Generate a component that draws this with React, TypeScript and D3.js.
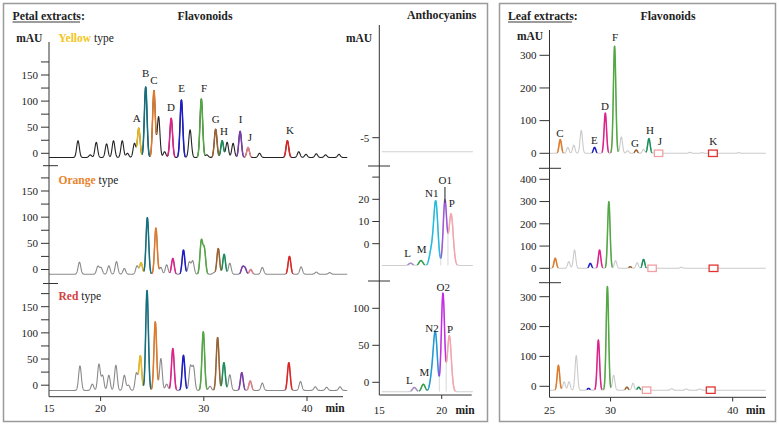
import React from 'react';
import * as d3 from 'd3';

// [retention time (min), apex (mAU), peak id, optional sigma]
type P = [number, number, string, number?];

// ---------- Petal flavonoids ----------
const yellowPeaks: P[] = [
  [17.81, 24, ''], [19.0, -3, ''], [19.58, 21, ''], [20.58, 18, ''], [21.25, 24, ''], [22.1, 24, ''],
  [22.6, 0, ''], [23.28, 19, ''], [23.7, 48, 'A'], [24.37, 127, 'B'], [25.17, 120, 'C'], [25.62, 70, ''],
  [26.2, 3, ''], [26.84, 67, 'D'], [27.83, 102, 'E'], [28.67, 45, ''], [29.76, 104, 'F'], [30.3, -3, ''],
  [31.15, 46, 'G'], [31.78, 24, 'H'], [32.26, 21, ''], [32.84, 19, ''], [33.52, 42, 'I'], [34.29, 11, 'J'],
  [35.4, 0, ''], [38.1, 24, 'K'], [39.2, 3, ''], [39.9, -2, ''], [40.9, -1, ''], [41.8, -3, ''], [43.1, -2, ''],
];
const orangePeaks: P[] = [
  [17.95, 14, ''], [19.74, 6, ''], [20.05, 3, ''], [20.8, 7, ''], [21.54, 15, ''], [22.3, 2, ''],
  [23.53, 7, ''], [23.92, 13, 'A'], [24.53, 99, 'B'], [25.36, 79, 'C'], [25.84, 4, ''], [26.4, 9, ''],
  [27.0, 21, 'D'], [28.03, 37, 'E'], [28.6, 14, ''], [28.93, 16, ''], [29.76, 53, 'F'], [30.05, 38, 'F'],
  [31.0, -6, ''], [31.4, 40, 'G'], [31.97, 29, 'H'], [32.52, 12, ''], [33.75, 4, 'I'], [34.0, 2, 'I'],
  [34.55, 0, 'J'], [35.67, 4, ''], [38.3, 25, 'K'], [39.43, 5, ''], [40.9, -5, ''], [42.2, -6, ''],
];
const redPeaks: P[] = [
  [18.0, 37, ''], [19.2, 2, ''], [19.84, 40, ''], [20.2, 18, ''], [20.8, 19, ''], [21.48, 38, ''],
  [22.3, 19, ''], [22.7, 0, ''], [23.47, 23, ''], [23.85, 56, 'A'], [24.5, 181, 'B'], [25.3, 121, 'C'],
  [25.84, 51, ''], [26.4, 2, ''], [27.0, 70, 'D'], [28.03, 57, 'E'], [28.7, 35, ''], [29.0, 34, ''],
  [29.95, 102, 'F'], [30.6, -2, ''], [31.34, 91, 'G'], [31.95, 43, 'H'], [32.52, 20, ''], [33.68, 24, 'I'],
  [34.5, 8, 'J'], [35.67, 4, ''], [38.24, 43, 'K'], [39.37, 7, ''], [40.8, -3, ''], [41.9, -4, ''], [43.2, -3, ''],
];
const petalBaselines = [-8, -9, -10];
const yellowLabels: [string, number, number][] = [
  ['A', 136.7, 118.3], ['B', 145.7, 72.7], ['C', 154, 80], ['D', 171, 106.7], ['E', 181.7, 88.3],
  ['F', 204, 88.3], ['G', 215.7, 119], ['H', 224, 130.7], ['I', 240.7, 119], ['J', 250, 136.7], ['K', 290, 130],
];
const flavColors: Record<string, string> = {
  A: '#e8b820', B: '#12707f', C: '#e07a28', D: '#e0208c', E: '#1c1cc8', F: '#52a842',
  G: '#9a6432', H: '#18905a', I: '#7a3ca8', J: '#e08088', K: '#e02424',
};
const petalTicks = [0, 25, 50, 75, 100, 125, 150, 175];
const petalTickLabels = [0, 50, 100, 150];

// ---------- Anthocyanins ----------
const anthMidPeaks: P[] = [
  [17.51, -8.8, 'L', 0.15], [18.34, -7.6, 'M', 0.15], [19.15, -4, 'N', 0.15],
  [19.52, 19.1, 'N', 0.17], [20.26, 19.4, 'O', 0.14], [20.75, 13.4, 'P', 0.17],
];
const anthBotPeaks: P[] = [
  [17.81, -7, 'L', 0.15], [18.53, -2.7, 'M', 0.15], [19.2, 5, 'N', 0.15],
  [19.49, 66, 'N', 0.16], [20.1, 120, 'O', 0.13], [20.61, 63, 'P', 0.16],
];
const anthBaselines = [-6, -9.8, -12.7];
const anthMidColors: Record<string, string> = { L: '#a88cc8', M: '#2f9e48', N: '#22bce2', O: '#9c58d6', P: '#f4a4ac' };
const anthBotColors: Record<string, string> = { L: '#a88cc8', M: '#2f9e48', N: '#1f9ad8', O: '#c42ce8', P: '#f4a4ac' };
const anthMidLabels: [string, number, number][] = [
  ['L', 407.7, 252.7], ['M', 421.7, 248.7], ['N1', 431.7, 193.3], ['O1', 445.3, 180], ['P', 451.7, 203.3],
];
const anthBotLabels: [string, number, number][] = [
  ['L', 409.3, 380], ['M', 424.3, 372.3], ['N2', 432, 327.7], ['O2', 443.3, 286.7], ['P', 450, 328.7],
];

// ---------- Leaf flavonoids ----------
const leafTopPeaks: P[] = [
  [25.88, 42, 'C'], [26.5, 18, ''], [26.99, 25, ''], [27.6, 70, ''], [28.69, 18, 'E'], [29.57, 123, 'D'],
  [30.33, 328, 'F'], [30.88, 50, ''], [31.4, 8, ''], [32.1, 10, 'G'], [32.7, 12, ''], [33.14, 45, 'H'],
  [36.5, 3, ''], [37.5, 2, ''], [40.5, 2, ''],
];
const leafMidPeaks: P[] = [
  [25.47, 45, 'C'], [26.58, 30, ''], [27.05, 82, ''], [28.34, 22, 'E'], [29.1, 82, 'D'], [29.86, 299, 'F'],
  [30.41, 34, ''], [31.61, 7, 'G'], [32.18, 25, ''], [32.7, 40, 'H'], [35.8, 5, ''],
];
const leafBotPeaks: P[] = [
  [25.73, 70, 'C'], [26.2, 15, ''], [26.6, 15, ''], [27.19, 103, ''], [28.2, -7, 'E'], [29.0, 155, 'D'],
  [29.74, 334, 'F'], [30.25, 37, ''], [31.34, -3, 'G'], [31.84, 10, ''], [32.3, -3, 'H'],
  [35.0, -8, ''], [36.2, -9, ''], [37.3, -9, ''],
];
const leafBaselines = [0, 0, -13];
const leafBoxJ = [33.93, 33.4, 32.95];
const leafBoxK = [38.38, 38.43, 38.2];
const leafLabels: [string, number, number][] = [
  ['C', 560, 133.3], ['E', 594.3, 140], ['D', 605, 106], ['F', 615, 37.3], ['G', 635, 143.3],
  ['H', 650, 130], ['J', 660, 140.7], ['K', 713.3, 141],
];

const FONT = "'Liberation Serif', 'Times New Roman', serif";
const AX = '#333';

type Scale = d3.ScaleLinear<number, number>;
type Pt = { t: number; v: number; id: string };

function buildTrace(peaks: P[], base: number, sigma: number, t0: number, t1: number,
  x: Scale, y: Scale, colors: Record<string, string>, def: string) {
  const n = Math.round((t1 - t0) / 0.01);
  const pxUnit = Math.abs(y(1) - y(0));
  const pts: Pt[] = [];
  for (let i = 0; i <= n; i++) {
    const t = t0 + (i * (t1 - t0)) / n;
    let v = base, best = 0, id = '';
    for (const [pt, h, pid, s] of peaks) {
      const sg = s ?? sigma;
      const c = (h - base) * Math.exp(-((t - pt) ** 2) / (2 * sg * sg));
      v += c;
      if (c > best) { best = c; id = pid; }
    }
    if (best * pxUnit < 0.6) id = '';
    pts.push({ t, v, id });
  }
  const line = d3.line<Pt>().x(d => x(d.t)).y(d => y(d.v));
  const segs: { d: string; color: string; w: number }[] = [{ d: line(pts) || '', color: def, w: 1.1 }];
  let i = 0;
  while (i < pts.length) {
    const id = pts[i].id;
    if (id && colors[id]) {
      let j = i;
      while (j + 1 < pts.length && pts[j + 1].id === id) j++;
      const sl = pts.slice(Math.max(0, i - 1), Math.min(pts.length, j + 2));
      segs.push({ d: line(sl) || '', color: colors[id], w: 1.5 });
      i = j + 1;
    } else i++;
  }
  return { segs, pts };
}

function Trace({ segs }: { segs: { d: string; color: string; w: number }[] }) {
  return (
    <g fill="none" strokeLinejoin="round">
      {segs.map((s, i) => <path key={i} d={s.d} stroke={s.color} strokeWidth={s.w} />)}
    </g>
  );
}

function YTicks({ y, ax, ticks, labels, len = 8 }: { y: Scale; ax: number; ticks: number[]; labels: number[]; len?: number }) {
  return (
    <g>
      {ticks.map(t => (
        <line key={t} x1={ax - len} x2={ax} y1={y(t)} y2={y(t)} stroke={AX} strokeWidth={1} />
      ))}
      {labels.map(t => (
        <text key={'l' + t} x={ax - len - 3} y={y(t)} dy="0.35em" textAnchor="end" fontSize={11} fontFamily={FONT} fill="#222">{t}</text>
      ))}
    </g>
  );
}

export default function App() {
  // Petal flavonoid scales
  const xP = d3.scaleLinear().domain([15, 40]).range([49, 307]);
  const yY = d3.scaleLinear().domain([0, 150]).range([153.3, 75]);
  const yO = d3.scaleLinear().domain([0, 150]).range([269.5, 191]);
  const yR = d3.scaleLinear().domain([0, 150]).range([385.2, 306.7]);
  const petalY = [yY, yO, yR];
  const petalData = [yellowPeaks, orangePeaks, redPeaks];
  const petalCol = ['#222', '#8a8a8a', '#8a8a8a'];

  // Anthocyanin scales
  const xA = d3.scaleLinear().domain([15, 20]).range([379.3, 441.7]);
  const yAT = d3.scaleLinear().domain([-5, -6]).range([137.7, 151.7]);
  const yAM = d3.scaleLinear().domain([0, 20]).range([243.7, 199.3]);
  const yAB = d3.scaleLinear().domain([0, 100]).range([382.3, 308.3]);

  // Leaf scales
  const xL = d3.scaleLinear().domain([25, 40]).range([549.5, 732.7]);
  const yLT = d3.scaleLinear().domain([0, 300]).range([153.3, 55.3]);
  const yLM = d3.scaleLinear().domain([0, 400]).range([268.3, 179.3]);
  const yLB = d3.scaleLinear().domain([0, 300]).range([386.3, 296.7]);
  const leafY = [yLT, yLM, yLB];
  const leafData = [leafTopPeaks, leafMidPeaks, leafBotPeaks];

  const petalTraces = petalData.map((pk, i) =>
    buildTrace(pk, petalBaselines[i], 0.13, 15.0, 43.9, xP, petalY[i], flavColors, petalCol[i]));
  const anthTop = d3.line<number>().x(t => xA(t)).y(() => yAT(anthBaselines[0]))([15.2, 22.5]) || '';
  const anthMid = buildTrace(anthMidPeaks, anthBaselines[1], 0.16, 15.2, 22.5, xA, yAM, anthMidColors, '#cfcfcf');
  const anthBot = buildTrace(anthBotPeaks, anthBaselines[2], 0.16, 15.2, 22.5, xA, yAB, anthBotColors, '#cfcfcf');
  const leafTraces = leafData.map((pk, i) =>
    buildTrace(pk, leafBaselines[i], 0.1, 25.0, 42.7, xL, leafY[i], flavColors, '#cacaca'));

  // valley drop lines for anthocyanins
  const dropLines = (tr: { pts: Pt[] }, y: Scale, base: number, pairs: [string, string][]) =>
    pairs.map(([a, b]) => {
      const k = tr.pts.findIndex((p, i) => i > 0 && tr.pts[i - 1].id === a && p.id === b);
      const p = tr.pts[k];
      return { x: xA(p.t), y1: y(base), y2: y(p.v) };
    });
  const midDrops = dropLines(anthMid, yAM, anthBaselines[1], [['N', 'O'], ['O', 'P']]);
  const botDrops = dropLines(anthBot, yAB, anthBaselines[2], [['N', 'O'], ['O', 'P']]);
  const o1 = anthMidPeaks.find(p => p[2] === 'O')!;

  const txt = (s: string, x: number, y: number, extra: any = {}) => (
    <text x={x} y={y} dy="0.35em" fontFamily={FONT} fontSize={11} fill="#222" textAnchor="middle" {...extra}>{s}</text>
  );

  return (
    <svg width={779} height={426} style={{ position: 'absolute', left: 0, top: 0, background: '#fff' }}>
      <rect x={0} y={0} width={779} height={426} fill="#fff" />
      {/* frames */}
      <rect x={3.5} y={3.5} width={484} height={418} fill="none" stroke="#9a9a9a" strokeWidth={1.5} />
      <rect x={499.5} y={3.5} width={276} height={418} fill="none" stroke="#9a9a9a" strokeWidth={1.5} />

      {/* titles */}
      <text x={12.5} y={16} dy="0.35em" fontFamily={FONT} fontSize={11.8} fontWeight="bold" fill="#222">Petal extracts:</text>
      <line x1={12.5} x2={80} y1={22} y2={22} stroke="#222" strokeWidth={0.9} />
      {txt('Flavonoids', 205, 16, { fontSize: 11.8, fontWeight: 'bold' })}
      {txt('Anthocyanins', 441.7, 15, { fontSize: 11.8, fontWeight: 'bold' })}
      <text x={508} y={16} dy="0.35em" fontFamily={FONT} fontSize={11.8} fontWeight="bold" fill="#222">Leaf extracts:</text>
      <line x1={508} x2={572} y1={22} y2={22} stroke="#222" strokeWidth={0.9} />
      {txt('Flavonoids', 668, 16, { fontSize: 11.8, fontWeight: 'bold' })}

      {/* ---- petal flavonoids ---- */}
      {txt('mAU', 29.3, 37.7, { fontSize: 11.5, fontWeight: 'bold' })}
      <text x={58.5} y={38} dy="0.35em" fontFamily={FONT} fontSize={11.5} fill="#222">
        <tspan fill="#f2c618" fontWeight="bold">Yellow</tspan> type
      </text>
      <text x={58.5} y={180} dy="0.35em" fontFamily={FONT} fontSize={11.5} fill="#222">
        <tspan fill="#e8842e" fontWeight="bold">Orange</tspan> type
      </text>
      <text x={58.5} y={296} dy="0.35em" fontFamily={FONT} fontSize={11.5} fill="#222">
        <tspan fill="#d2403e" fontWeight="bold">Red</tspan> type
      </text>
      {petalTraces.map((tr, i) => <Trace key={i} segs={tr.segs} />)}
      {yellowLabels.map(([s, x, y]) => <g key={s}>{txt(s, x, y)}</g>)}
      <line x1={49} x2={49} y1={42} y2={396.7} stroke={AX} strokeWidth={1} />
      <line x1={49} x2={343} y1={396.7} y2={396.7} stroke={AX} strokeWidth={1} />
      {petalY.map((y, i) => <YTicks key={i} y={y} ax={49} ticks={petalTicks} labels={petalTickLabels} />)}
      {[165.7, 283.5].map(v => <line key={v} x1={43} x2={58} y1={v} y2={v} stroke={AX} strokeWidth={1} />)}
      {[20, 30, 40].map(t => <line key={t} x1={xP(t)} x2={xP(t)} y1={396.7} y2={401} stroke={AX} />)}
      {[15, 20, 30, 40].map(t => <g key={t}>{txt(String(t), xP(t), 408)}</g>)}
      {txt('min', 335, 408, { fontSize: 11.5, fontWeight: 'bold' })}

      {/* ---- anthocyanins ---- */}
      {txt('mAU', 359, 37.7, { fontSize: 11.5, fontWeight: 'bold' })}
      <path d={anthTop} stroke="#d0d0d0" strokeWidth={1.1} fill="none" />
      {[...midDrops, ...botDrops].map((d, i) => (
        <line key={i} x1={d.x} x2={d.x} y1={d.y1} y2={d.y2} stroke="#d8d8d8" strokeWidth={1} />
      ))}
      <Trace segs={anthMid.segs} />
      <Trace segs={anthBot.segs} />
      <line x1={xA(o1[0])} x2={xA(o1[0])} y1={187} y2={yAM(o1[1]) + 2} stroke="#333" strokeWidth={1.1} />
      {anthMidLabels.map(([s, x, y]) => <g key={'m' + s}>{txt(s, x, y)}</g>)}
      {anthBotLabels.map(([s, x, y]) => <g key={'b' + s}>{txt(s, x, y)}</g>)}
      <line x1={379.3} x2={379.3} y1={25} y2={395} stroke={AX} strokeWidth={1} />
      <line x1={379.3} x2={471.7} y1={395} y2={395} stroke={AX} strokeWidth={1} />
      <YTicks y={yAT} ax={379.3} ticks={[-5]} labels={[-5]} len={7} />
      <YTicks y={yAM} ax={379.3} ticks={[0, 10, 20, 30]} labels={[0, 10, 20]} len={7} />
      <YTicks y={yAB} ax={379.3} ticks={[0, 50, 100]} labels={[0, 50, 100]} len={7} />
      {[166, 281].map(v => <line key={v} x1={368} x2={390} y1={v} y2={v} stroke={AX} strokeWidth={1} />)}
      <line x1={xA(20)} x2={xA(20)} y1={395} y2={399} stroke={AX} />
      {[15, 20].map(t => <g key={t}>{txt(String(t), xA(t), 410)}</g>)}
      {txt('min', 465, 410, { fontSize: 11.5, fontWeight: 'bold' })}

      {/* ---- leaf flavonoids ---- */}
      {txt('mAU', 530, 36, { fontSize: 11.5, fontWeight: 'bold' })}
      {leafTraces.map((tr, i) => <Trace key={i} segs={tr.segs} />)}
      {leafY.map((y, i) => (
        <g key={'bx' + i} fill="#fff" strokeWidth={1.3}>
          <rect x={xL(leafBoxJ[i]) - 4.2} y={y(leafBaselines[i] === 0 ? 0 : leafBaselines[i]) - 3.2} width={8.4} height={6.4} stroke="#f0a0a4" />
          <rect x={xL(leafBoxK[i]) - 4.4} y={y(leafBaselines[i] === 0 ? 0 : leafBaselines[i]) - 3.2} width={8.8} height={6.4} stroke="#e03434" />
        </g>
      ))}
      {leafLabels.map(([s, x, y]) => <g key={'lf' + s}>{txt(s, x, y)}</g>)}
      <line x1={549.5} x2={549.5} y1={30} y2={397.3} stroke={AX} strokeWidth={1} />
      <line x1={549.5} x2={766} y1={397.3} y2={397.3} stroke={AX} strokeWidth={1} />
      <YTicks y={yLT} ax={549.5} ticks={[0, 100, 200, 300]} labels={[0, 100, 200, 300]} len={10} />
      <YTicks y={yLM} ax={549.5} ticks={[0, 100, 200, 300, 400]} labels={[0, 100, 200, 300, 400]} len={10} />
      <YTicks y={yLB} ax={549.5} ticks={[0, 100, 200, 300]} labels={[0, 100, 200, 300]} len={10} />
      {[168.3, 282.7].map(v => <line key={v} x1={539} x2={561} y1={v} y2={v} stroke={AX} strokeWidth={1} />)}
      {[30, 40].map(t => <line key={t} x1={xL(t)} x2={xL(t)} y1={397.3} y2={401.5} stroke={AX} />)}
      {[25, 30, 40].map(t => <g key={t}>{txt(String(t), xL(t), 410)}</g>)}
      {txt('min', 755.5, 410, { fontSize: 11.5, fontWeight: 'bold' })}
    </svg>
  );
}
